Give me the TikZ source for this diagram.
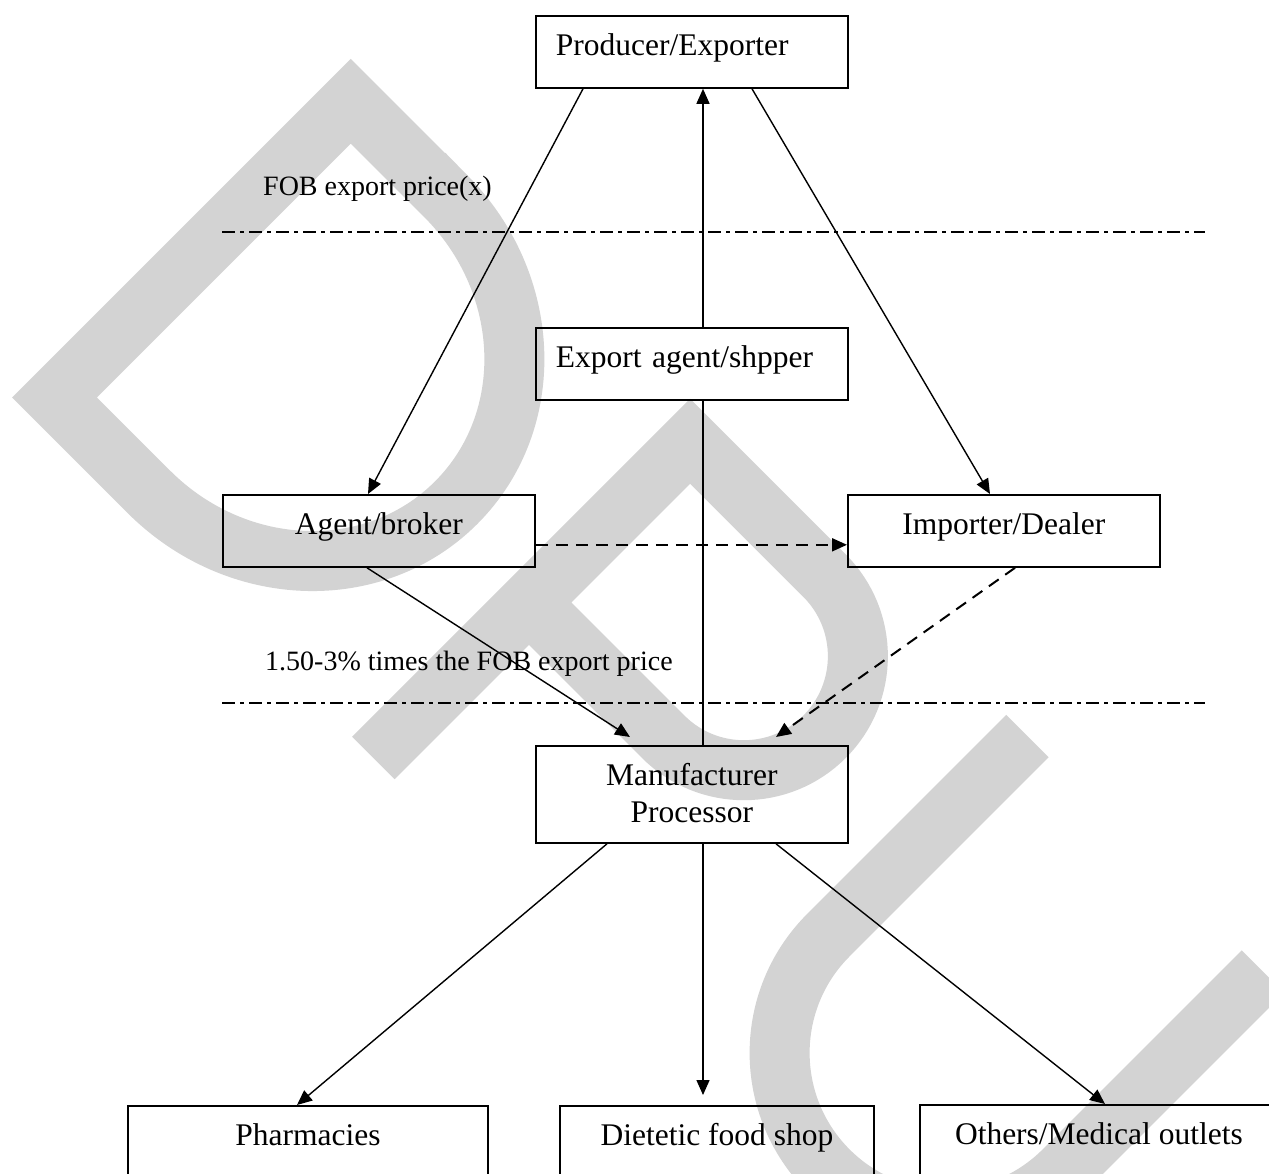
\documentclass[tikz,border=0pt]{standalone}
\usepackage{fontspec}
\setmainfont{Liberation Serif}
\usetikzlibrary{arrows.meta,calc}
\definecolor{wmgray}{RGB}{211,211,211}
\newcommand{\boxfont}{\fontsize{31.5}{37}\selectfont}
\newcommand{\lblfont}{\fontsize{28}{34}\selectfont}
\tikzset{
  wm/.style={draw=wmgray, line width=60pt, miter limit=10, line join=miter, line cap=butt},
  box/.style={draw, line width=1.8pt, inner xsep=0pt, inner ysep=0pt, minimum width=312pt,
    text height=40pt, text depth=32pt, anchor=north west, font=\boxfont, align=center},
  leftbox/.style={box, text width=272pt, align=left, inner xsep=20pt},
  txt/.style={inner sep=0pt, font=\boxfont},
  lbl/.style={inner sep=0pt, font=\lblfont, anchor=base west},
  conn/.style={line width=1.4pt},
  arr/.style={conn, -{Triangle[length=15pt,width=13pt]}},
  darr/.style={arr, line width=2pt, dash pattern=on 12pt off 8pt},
  dashdotline/.style={line width=2.6pt, dash pattern=on 13pt off 5pt on 4pt off 5pt}
}
\begin{document}
\begin{tikzpicture}[x=1pt,y=1pt]
\useasboundingbox (0,0) rectangle (1269,-1173);
\clip (0,0) rectangle (1269,-1173);
\fill[white] (0,0) rectangle (1269,-1173);

% watermark "DPU"
\begin{scope}[rotate=-45]
  \draw[wm] (453,176.4) -- (319.6,176.4) -- (319.6,-242.5) -- (453,-242.5)
     arc[start angle=-90, end angle=90, x radius=225, y radius=209.5] -- cycle;
  \draw[wm] (800,-272) -- (800,176) -- (990,176)
     arc[start angle=90, end angle=-90, radius=114] -- (770,-52);
  \draw[wm] (1247,206) -- (1247,-75.5)
     arc[start angle=180, end angle=360, radius=166.5] -- (1580,206);
\end{scope}

% boxes
\node[leftbox] (prod) at (535,-15) {Producer/Exporter};
\node[leftbox] (exp) at (535,-327) {Export agent/shpper};
\node[box] (agent) at (222,-494) {Agent/broker};
\node[box] (imp) at (847,-494) {Importer/Dealer};
\node[box, text depth=57pt] (man) at (535,-745) {Manufacturer};
\node[txt, anchor=base] (proc) at ($(man.base)+(0,-37)$) {Processor};
\node[box, minimum width=360pt, text depth=45pt] (pharm) at (127,-1105) {Pharmacies};
\node[box, minimum width=314pt, text depth=45pt] (diet) at (559,-1105) {Dietetic food shop};
\node[box, minimum width=358pt, text depth=45pt] (oth) at (919,-1104) {Others/Medical outlets};

% labels
\node[lbl] (fob) at (263,-195) {FOB export price(x)};
\node[lbl] (pct) at (265,-670) {1.50-3\% times the FOB export price};

% dash-dot separators
\coordinate (l1a) at (222,-232);
\coordinate (l1b) at (1205,-232);
\coordinate (l2a) at (222,-703);
\coordinate (l2b) at (1205,-703);
\draw[dashdotline] (l1a) -- (l1b);
\draw[dashdotline] (l2a) -- (l2b);

% connectors
\coordinate (vx) at (703,0);
\draw[conn] (man.north -| vx) -- (exp.south -| vx);
\draw[arr] (exp.north -| vx) -- (prod.south -| vx);
\draw[arr] ([xshift=48pt]prod.south west) -- ([xshift=146pt]agent.north west);
\draw[arr] ([xshift=217pt]prod.south west) -- ([xshift=143pt]imp.north west);
\draw[darr] ([yshift=23pt]agent.south east) -- ([yshift=23pt]imp.south west);
\draw[arr] ([xshift=145pt]agent.south west) -- ([xshift=95pt,yshift=8pt]man.north west);
\draw[darr] ([xshift=168pt]imp.south west) -- ([xshift=241pt,yshift=8pt]man.north west);
\draw[arr] ([xshift=72pt]man.south west) -- ([xshift=170pt]pharm.north west);
\coordinate (dtip) at ($(diet.north -| vx)+(0,10)$);
\draw[arr] (man.south -| vx) -- (dtip);
\draw[arr] ([xshift=241pt]man.south west) -- ([xshift=186pt]oth.north west);
\end{tikzpicture}
\end{document}
